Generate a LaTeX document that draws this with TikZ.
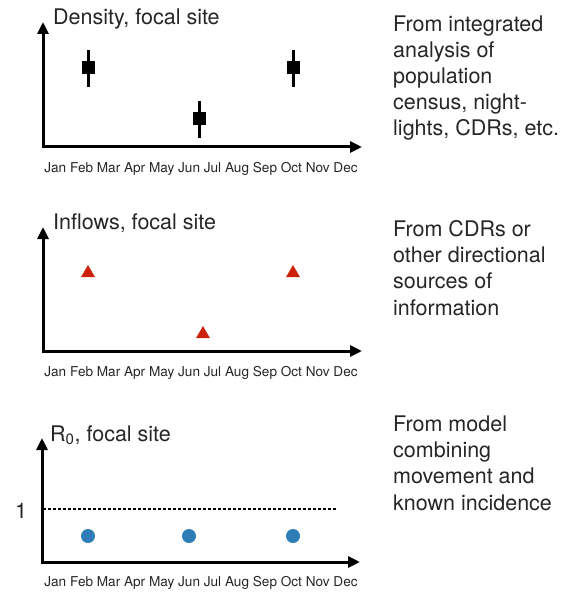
\documentclass[tikz,border=0pt]{standalone}
\usepackage{fontspec}
\setmainfont{TeX Gyre Heros}
\usetikzlibrary{arrows.meta,shapes.geometric}
\definecolor{markred}{RGB}{204,34,12}
\definecolor{markblue}{RGB}{46,125,182}
\definecolor{txtgray}{RGB}{38,38,38}
\tikzset{
  axis/.style={line width=3pt,{Triangle[length=12pt,width=11pt]}-{Triangle[length=12pt,width=11pt]}},
  title/.style={anchor=base west,inner sep=0pt,text=txtgray,font=\fontsize{21.5}{26}\selectfont},
  note/.style={anchor=base west,inner sep=0pt,align=left,text=txtgray,font=\fontsize{21.5}{26.2}\selectfont},
  months/.style={inner sep=0pt,text=txtgray,font=\fontsize{13.6}{16}\selectfont},
  sq/.style={fill=black,minimum size=13pt,inner sep=0pt},
  bar/.style={line width=3pt},
  tri/.style={regular polygon,regular polygon sides=3,fill=markred,minimum size=16pt,inner sep=0pt},
  dot/.style={circle,fill=markblue,minimum size=14pt,inner sep=0pt},
}
\begin{document}
\begin{tikzpicture}[x=1pt,y=-1pt]
\useasboundingbox (0,0) rectangle (577,596);
% density panel
\coordinate (o1) at (43,147);
\draw[axis] (43,22) -- (o1) -- (362,147);
\node[title] (t1) at (53,25) {Density, focal site};
\node[months] (m1) at (201,169) {Jan Feb Mar Apr May Jun Jul Aug Sep Oct Nov Dec};
\foreach \x/\y/\n in {88/68/a,199/119/b,293/68/c}{
  \node[sq] (d\n) at (\x,\y) {};
  \draw[bar] ([yshift=18pt]d\n.center) -- ([yshift=-19pt]d\n.center);
}
% base anchor sits on the last line
\node[note] (n1) at (393,136) {From integrated\\analysis of\\population\\census, night-\\lights, CDRs, etc.};
% inflows panel
\coordinate (o2) at (43,351);
\draw[axis] (43,227) -- (o2) -- (362,351);
\node[title] (t2) at (53,229) {Inflows, focal site};
\node[months] (m2) at (201,373) {Jan Feb Mar Apr May Jun Jul Aug Sep Oct Nov Dec};
\node[tri] (ia) at (88,273) {};
\node[tri] (ib) at (203,334) {};
\node[tri] (ic) at (293,273) {};
\node[note] (n2) at (393,315) {From CDRs or\\other directional\\sources of\\information};
% R0 panel
\coordinate (o3) at (42,562);
\draw[axis] (42,438) -- (o3) -- (360,562);
\node[title] (t3) at (50,441) {R\textsubscript{0}, focal site};
\node[months] (m3) at (201,583) {Jan Feb Mar Apr May Jun Jul Aug Sep Oct Nov Dec};
\node[title,anchor=center] (one) at (21,511) {1};
\coordinate (h0) at (43,509);
\coordinate (h1) at (337,509);
\draw[line width=1.2pt,dash pattern=on 3pt off 2pt] (h0) -- (h1);
\foreach \x/\n in {88/a,189/b,293/c}
  \node[dot] (r\n) at (\x,536) {};
\node[note] (n3) at (393,510) {From model\\combining\\movement and\\known incidence};
\end{tikzpicture}
\end{document}
